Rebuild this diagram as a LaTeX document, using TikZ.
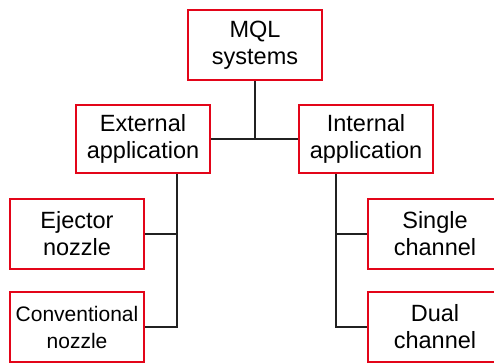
\documentclass[tikz,border=0pt]{standalone}
\usepackage{fontspec}
\setmainfont{Liberation Sans}
\definecolor{boxred}{rgb}{0.89,0.02,0.10}
\definecolor{linegray}{rgb}{0.13,0.13,0.13}
\begin{document}
\begin{tikzpicture}[x=1pt,y=-1pt,
  catbox/.style={draw=boxred,line width=2.2pt,minimum width=134pt,align=center,
    inner sep=0pt,font=\fontsize{23.5}{27}\selectfont},
  link/.style={draw=linegray,line width=2pt}]
\useasboundingbox (0,0) rectangle (494,362);
\clip (0,0) rectangle (494,362);
\node[catbox,minimum height=70pt] (mql) at (255,45) {MQL\\systems};
\node[catbox,minimum height=68pt] (ext) at (143,139) {External\\application};
\node[catbox,minimum height=68pt] (int) at (366,139) {Internal\\application};
\node[catbox,minimum height=70pt] (ej) at (77,234) {Ejector\\nozzle};
\node[catbox,minimum height=70pt,font=\fontsize{21}{27}\selectfont] (conv) at (77,327) {Conventional\\nozzle};
\node[catbox,minimum height=70pt] (sing) at (435,234) {Single\\channel};
\node[catbox,minimum height=70pt] (dual) at (435,327) {Dual\\channel};
\coordinate (xl) at (177,0);
\coordinate (xr) at (336,0);
\draw[link] (mql.south) -- (mql.south |- ext.east);
\draw[link] (ext.east) -- (int.west);
\draw[link] (xl |- ext.south) -- (xl |- conv.east) -- (conv.east);
\draw[link] (ej.east) -- (ej.east -| xl);
\draw[link] (xr |- int.south) -- (xr |- dual.west) -- (dual.west);
\draw[link] (sing.west) -- (sing.west -| xr);
\end{tikzpicture}
\end{document}
